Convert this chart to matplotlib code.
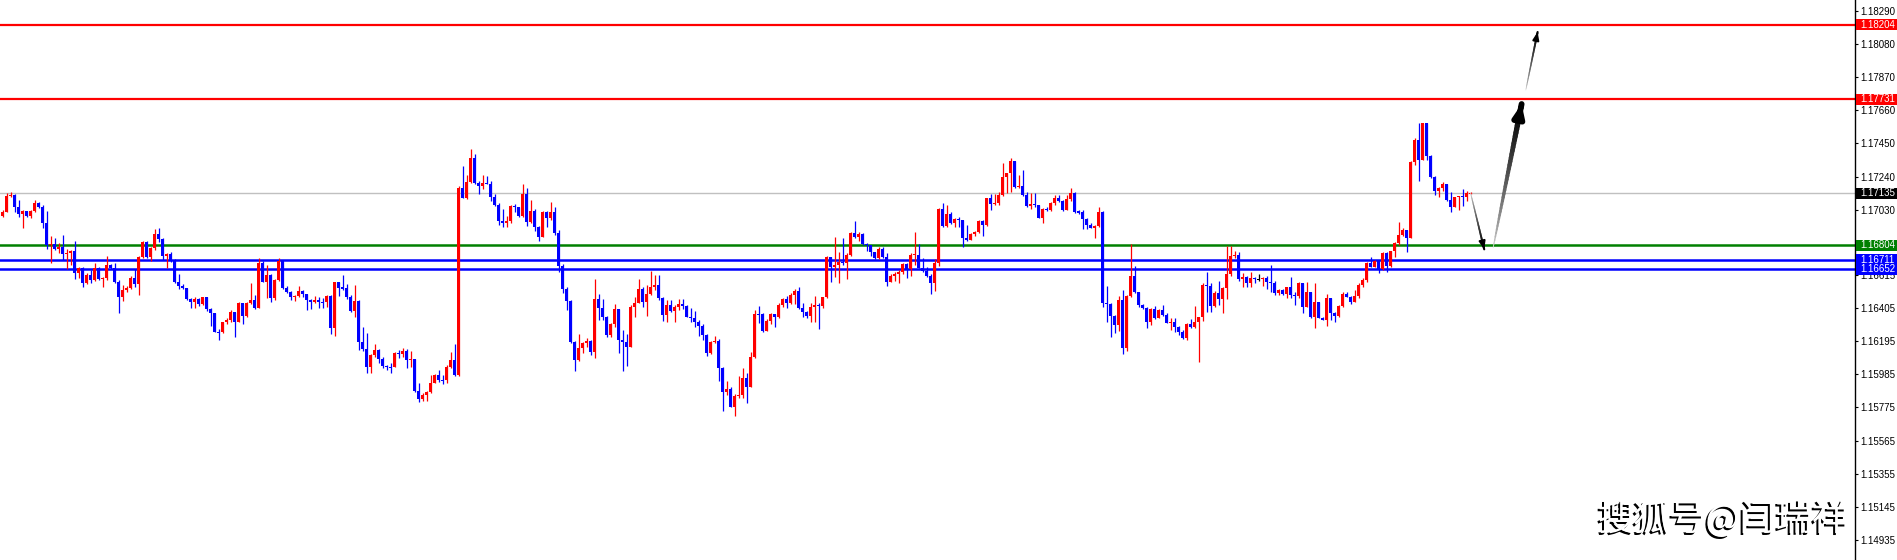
import matplotlib
matplotlib.use('Agg')
import matplotlib.pyplot as plt
from matplotlib.collections import LineCollection
from matplotlib.patches import Rectangle
import matplotlib.transforms as mtransforms
import numpy as np

# ---------------- data ----------------
first_open = 1.16989
closes = [
    1.17017, 1.17116, 1.17122, 1.17044, 1.17000, 1.17023, 1.16991, 1.17021, 1.17070, 1.17044,
    1.16947, 1.16805, 1.16812, 1.16782, 1.16795, 1.16746, 1.16757, 1.16767, 1.16625, 1.16657,
    1.16562, 1.16615, 1.16583, 1.16661, 1.16587, 1.16598, 1.16678, 1.16661, 1.16568, 1.16473,
    1.16520, 1.16530, 1.16598, 1.16556, 1.16731, 1.16822, 1.16731, 1.16788, 1.16875, 1.16841,
    1.16738, 1.16746, 1.16710, 1.16573, 1.16547, 1.16530, 1.16461, 1.16446, 1.16461, 1.16431,
    1.16475, 1.16397, 1.16372, 1.16255, 1.16251, 1.16315, 1.16329, 1.16378, 1.16319, 1.16435,
    1.16357, 1.16439, 1.16456, 1.16408, 1.16689, 1.16573, 1.16615, 1.16471, 1.16583, 1.16704,
    1.16530, 1.16509, 1.16477, 1.16484, 1.16513, 1.16492, 1.16456, 1.16446, 1.16456, 1.16444,
    1.16441, 1.16482, 1.16281, 1.16568, 1.16535, 1.16530, 1.16477, 1.16386, 1.16450, 1.16192,
    1.16143, 1.16029, 1.16107, 1.16139, 1.16080, 1.16037, 1.16033, 1.16029, 1.16118, 1.16111,
    1.16133, 1.16076, 1.16080, 1.15881, 1.15828, 1.15854, 1.15875, 1.15928, 1.15980, 1.15949,
    1.15947, 1.16033, 1.16076, 1.15980, 1.17165, 1.17106, 1.17207, 1.17359, 1.17197, 1.17182,
    1.17197, 1.17192, 1.17112, 1.17059, 1.16960, 1.16947, 1.16958, 1.17053, 1.17044, 1.16991,
    1.17129, 1.16953, 1.17023, 1.16917, 1.16858, 1.17015, 1.16979, 1.17015, 1.16879, 1.16674,
    1.16526, 1.16452, 1.16192, 1.16076, 1.16150, 1.16181, 1.16198, 1.16128, 1.16463, 1.16403,
    1.16350, 1.16234, 1.16304, 1.16399, 1.16202, 1.16192, 1.16160, 1.16414, 1.16439, 1.16526,
    1.16446, 1.16494, 1.16537, 1.16551, 1.16467, 1.16361, 1.16425, 1.16386, 1.16414, 1.16429,
    1.16418, 1.16350, 1.16344, 1.16319, 1.16293, 1.16234, 1.16122, 1.16188, 1.16198, 1.16023,
    1.15875, 1.15889, 1.15779, 1.15847, 1.15854, 1.15964, 1.15906, 1.16093, 1.16367, 1.16365,
    1.16262, 1.16325, 1.16367, 1.16350, 1.16425, 1.16463, 1.16439, 1.16488, 1.16513, 1.16403,
    1.16382, 1.16357, 1.16414, 1.16425, 1.16418, 1.16473, 1.16731, 1.16663, 1.16678, 1.16700,
    1.16693, 1.16742, 1.16884, 1.16854, 1.16875, 1.16810, 1.16805, 1.16763, 1.16721, 1.16778,
    1.16731, 1.16573, 1.16611, 1.16621, 1.16636, 1.16687, 1.16653, 1.16742, 1.16744, 1.16661,
    1.16642, 1.16611, 1.16566, 1.16693, 1.17034, 1.16926, 1.17000, 1.16947, 1.16970, 1.16964,
    1.16852, 1.16837, 1.16873, 1.16890, 1.16960, 1.16932, 1.17101, 1.17065, 1.17074, 1.17122,
    1.17239, 1.17260, 1.17338, 1.17171, 1.17180, 1.17122, 1.17053, 1.17063, 1.17059, 1.16979,
    1.17034, 1.17027, 1.17070, 1.17101, 1.17084, 1.17027, 1.17097, 1.17137, 1.17017, 1.17013,
    1.16968, 1.16932, 1.16915, 1.16926, 1.17013, 1.16435, 1.16431, 1.16357, 1.16298, 1.16456,
    1.16154, 1.16484, 1.16609, 1.16509, 1.16425, 1.16403, 1.16319, 1.16397, 1.16340, 1.16393,
    1.16361, 1.16312, 1.16317, 1.16287, 1.16255, 1.16217, 1.16304, 1.16287, 1.16319, 1.16346,
    1.16551, 1.16547, 1.16420, 1.16503, 1.16463, 1.16530, 1.16621, 1.16738, 1.16742, 1.16589,
    1.16604, 1.16562, 1.16594, 1.16587, 1.16587, 1.16598, 1.16573, 1.16566, 1.16498, 1.16520,
    1.16494, 1.16537, 1.16488, 1.16484, 1.16566, 1.16410, 1.16509, 1.16346, 1.16446, 1.16344,
    1.16329, 1.16467, 1.16376, 1.16357, 1.16420, 1.16494, 1.16477, 1.16441, 1.16482, 1.16551,
    1.16583, 1.16693, 1.16668, 1.16706, 1.16651, 1.16757, 1.16672, 1.16769, 1.16816, 1.16869,
    1.16900, 1.16852, 1.17334, 1.17472, 1.17345, 1.17577, 1.17370, 1.17235, 1.17150, 1.17169,
    1.17192, 1.17091, 1.17044, 1.17108, 1.17116, 1.17112, 1.17133, 1.17135,
]
highs = [
    1.17027, 1.17133, 1.17139, 1.17127, 1.17091, 1.17027, 1.17021, 1.17027, 1.17091, 1.17080,
    1.17059, 1.17021, 1.16862, 1.16848, 1.16816, 1.16869, 1.16778, 1.16774, 1.16833, 1.16668,
    1.16663, 1.16625, 1.16647, 1.16689, 1.16668, 1.16604, 1.16735, 1.16683, 1.16693, 1.16583,
    1.16551, 1.16545, 1.16609, 1.16651, 1.16735, 1.16831, 1.16831, 1.16795, 1.16907, 1.16911,
    1.16852, 1.16757, 1.16763, 1.16714, 1.16619, 1.16558, 1.16535, 1.16467, 1.16477, 1.16467,
    1.16477, 1.16477, 1.16403, 1.16376, 1.16270, 1.16319, 1.16340, 1.16393, 1.16382, 1.16446,
    1.16439, 1.16446, 1.16562, 1.16488, 1.16721, 1.16704, 1.16678, 1.16619, 1.16589, 1.16721,
    1.16704, 1.16545, 1.16513, 1.16488, 1.16545, 1.16520, 1.16492, 1.16463, 1.16482, 1.16473,
    1.16471, 1.16486, 1.16488, 1.16573, 1.16573, 1.16615, 1.16556, 1.16488, 1.16551, 1.16456,
    1.16287, 1.16249, 1.16114, 1.16175, 1.16143, 1.16093, 1.16044, 1.16054, 1.16128, 1.16139,
    1.16150, 1.16143, 1.16133, 1.16076, 1.15928, 1.15868, 1.15881, 1.15980, 1.15985, 1.16012,
    1.15980, 1.16044, 1.16128, 1.16177, 1.17180, 1.17307, 1.17249, 1.17414, 1.17383, 1.17211,
    1.17249, 1.17245, 1.17211, 1.17129, 1.17070, 1.17032, 1.16989, 1.17059, 1.17063, 1.17048,
    1.17192, 1.17165, 1.17091, 1.17032, 1.16926, 1.17021, 1.17023, 1.17080, 1.17044, 1.16900,
    1.16685, 1.16541, 1.16456, 1.16196, 1.16240, 1.16192, 1.16213, 1.16202, 1.16589, 1.16492,
    1.16463, 1.16355, 1.16312, 1.16431, 1.16399, 1.16266, 1.16240, 1.16425, 1.16473, 1.16589,
    1.16541, 1.16551, 1.16642, 1.16613, 1.16613, 1.16477, 1.16456, 1.16456, 1.16425, 1.16463,
    1.16463, 1.16425, 1.16403, 1.16389, 1.16329, 1.16304, 1.16240, 1.16196, 1.16228, 1.16211,
    1.16029, 1.15942, 1.15902, 1.15858, 1.15974, 1.16027, 1.15995, 1.16124, 1.16393, 1.16418,
    1.16372, 1.16334, 1.16376, 1.16361, 1.16435, 1.16471, 1.16484, 1.16498, 1.16526, 1.16541,
    1.16435, 1.16389, 1.16435, 1.16482, 1.16435, 1.16477, 1.16735, 1.16721, 1.16858, 1.16763,
    1.16852, 1.16752, 1.16890, 1.16960, 1.16890, 1.16879, 1.16816, 1.16795, 1.16763, 1.16795,
    1.16795, 1.16752, 1.16621, 1.16632, 1.16647, 1.16693, 1.16693, 1.16752, 1.16890, 1.16812,
    1.16721, 1.16668, 1.16621, 1.16714, 1.17038, 1.17070, 1.17059, 1.17017, 1.16974, 1.16981,
    1.16964, 1.16932, 1.16879, 1.16894, 1.16964, 1.16964, 1.17106, 1.17129, 1.17129, 1.17144,
    1.17323, 1.17264, 1.17355, 1.17338, 1.17249, 1.17281, 1.17144, 1.17133, 1.17133, 1.17059,
    1.17038, 1.17044, 1.17080, 1.17122, 1.17122, 1.17091, 1.17122, 1.17165, 1.17144, 1.17027,
    1.17027, 1.16974, 1.16943, 1.16930, 1.17044, 1.17021, 1.16545, 1.16439, 1.16361, 1.16482,
    1.16520, 1.16488, 1.16810, 1.16672, 1.16509, 1.16431, 1.16414, 1.16403, 1.16418, 1.16397,
    1.16425, 1.16372, 1.16340, 1.16340, 1.16291, 1.16266, 1.16308, 1.16334, 1.16418, 1.16350,
    1.16562, 1.16636, 1.16566, 1.16516, 1.16577, 1.16541, 1.16801, 1.16801, 1.16769, 1.16763,
    1.16630, 1.16609, 1.16632, 1.16604, 1.16619, 1.16604, 1.16609, 1.16678, 1.16577, 1.16524,
    1.16524, 1.16541, 1.16600, 1.16509, 1.16573, 1.16566, 1.16573, 1.16509, 1.16562, 1.16446,
    1.16350, 1.16492, 1.16467, 1.16382, 1.16425, 1.16505, 1.16509, 1.16482, 1.16520, 1.16562,
    1.16594, 1.16700, 1.16727, 1.16710, 1.16710, 1.16763, 1.16763, 1.16769, 1.16822, 1.16949,
    1.16911, 1.16900, 1.17338, 1.17482, 1.17577, 1.17581, 1.17577, 1.17376, 1.17243, 1.17175,
    1.17207, 1.17165, 1.17144, 1.17112, 1.17118, 1.17158, 1.17150, 1.17140,
]
lows = [
    1.16985, 1.17048, 1.17112, 1.17017, 1.16985, 1.16915, 1.16985, 1.16979, 1.17017, 1.17038,
    1.16915, 1.16780, 1.16693, 1.16774, 1.16757, 1.16710, 1.16653, 1.16678, 1.16587, 1.16594,
    1.16541, 1.16556, 1.16566, 1.16579, 1.16583, 1.16541, 1.16583, 1.16651, 1.16562, 1.16376,
    1.16452, 1.16509, 1.16524, 1.16541, 1.16488, 1.16721, 1.16721, 1.16706, 1.16774, 1.16826,
    1.16710, 1.16661, 1.16700, 1.16562, 1.16526, 1.16524, 1.16456, 1.16408, 1.16408, 1.16418,
    1.16425, 1.16389, 1.16293, 1.16251, 1.16202, 1.16247, 1.16304, 1.16319, 1.16219, 1.16319,
    1.16302, 1.16350, 1.16431, 1.16399, 1.16408, 1.16568, 1.16467, 1.16446, 1.16456, 1.16577,
    1.16526, 1.16503, 1.16456, 1.16452, 1.16473, 1.16477, 1.16393, 1.16397, 1.16435, 1.16403,
    1.16403, 1.16414, 1.16240, 1.16228, 1.16484, 1.16520, 1.16463, 1.16378, 1.16350, 1.16139,
    1.16135, 1.15995, 1.15995, 1.16097, 1.16054, 1.16023, 1.16012, 1.15995, 1.16029, 1.16086,
    1.16093, 1.16023, 1.16033, 1.15875, 1.15811, 1.15818, 1.15818, 1.15868, 1.15928, 1.15938,
    1.15921, 1.15928, 1.16023, 1.15976, 1.15976, 1.17101, 1.17097, 1.17197, 1.17192, 1.17129,
    1.17161, 1.17190, 1.17087, 1.17053, 1.16932, 1.16917, 1.16922, 1.16947, 1.17017, 1.16985,
    1.16985, 1.16926, 1.16947, 1.16896, 1.16833, 1.16854, 1.16922, 1.16964, 1.16869, 1.16636,
    1.16498, 1.16393, 1.16185, 1.16008, 1.16071, 1.16122, 1.16160, 1.16107, 1.16086, 1.16329,
    1.16329, 1.16224, 1.16219, 1.16287, 1.16118, 1.16008, 1.16037, 1.16156, 1.16350, 1.16435,
    1.16414, 1.16357, 1.16488, 1.16520, 1.16456, 1.16325, 1.16319, 1.16380, 1.16319, 1.16393,
    1.16397, 1.16346, 1.16319, 1.16287, 1.16228, 1.16202, 1.16101, 1.16114, 1.16181, 1.15944,
    1.15754, 1.15854, 1.15775, 1.15722, 1.15832, 1.15832, 1.15805, 1.15902, 1.16086, 1.16308,
    1.16255, 1.16272, 1.16304, 1.16287, 1.16340, 1.16414, 1.16403, 1.16431, 1.16431, 1.16397,
    1.16346, 1.16340, 1.16319, 1.16319, 1.16272, 1.16403, 1.16467, 1.16573, 1.16604, 1.16566,
    1.16678, 1.16592, 1.16735, 1.16848, 1.16831, 1.16803, 1.16767, 1.16735, 1.16716, 1.16716,
    1.16721, 1.16547, 1.16568, 1.16579, 1.16566, 1.16621, 1.16594, 1.16611, 1.16678, 1.16657,
    1.16636, 1.16604, 1.16492, 1.16516, 1.16674, 1.16917, 1.16922, 1.16939, 1.16917, 1.16922,
    1.16790, 1.16833, 1.16854, 1.16862, 1.16879, 1.16862, 1.16926, 1.17027, 1.17059, 1.17059,
    1.17118, 1.17133, 1.17144, 1.17165, 1.17165, 1.17116, 1.17048, 1.17032, 1.17044, 1.16974,
    1.16947, 1.17023, 1.17023, 1.17059, 1.17080, 1.17021, 1.17044, 1.17087, 1.17010, 1.17002,
    1.16905, 1.16905, 1.16911, 1.16852, 1.16917, 1.16414, 1.16319, 1.16224, 1.16245, 1.16262,
    1.16111, 1.16133, 1.16477, 1.16503, 1.16414, 1.16397, 1.16281, 1.16298, 1.16334, 1.16350,
    1.16355, 1.16308, 1.16266, 1.16255, 1.16234, 1.16207, 1.16202, 1.16276, 1.16276, 1.16065,
    1.16325, 1.16382, 1.16382, 1.16410, 1.16425, 1.16372, 1.16463, 1.16609, 1.16721, 1.16579,
    1.16541, 1.16541, 1.16541, 1.16562, 1.16577, 1.16547, 1.16526, 1.16505, 1.16488, 1.16488,
    1.16488, 1.16467, 1.16467, 1.16425, 1.16467, 1.16372, 1.16410, 1.16340, 1.16281, 1.16340,
    1.16329, 1.16291, 1.16329, 1.16319, 1.16350, 1.16414, 1.16473, 1.16431, 1.16467, 1.16467,
    1.16541, 1.16573, 1.16663, 1.16663, 1.16630, 1.16647, 1.16636, 1.16668, 1.16731, 1.16805,
    1.16862, 1.16763, 1.16848, 1.17313, 1.17211, 1.17345, 1.17345, 1.17228, 1.17122, 1.17112,
    1.17150, 1.17087, 1.17017, 1.17044, 1.17027, 1.17053, 1.17084, 1.17130,
]

tick_values = [1.18290, 1.18080, 1.17870, 1.17660, 1.17450, 1.17240, 1.17030, 1.16820,
               1.16615, 1.16405, 1.16195, 1.15985, 1.15775, 1.15565, 1.15355, 1.15145, 1.14935]
# the 1.16820 label is hidden behind the green price box in the reference
tick_labels = ["1.18290", "1.18080", "1.17870", "1.17660", "1.17450", "1.17240",
               "1.17030", "", "1.16615", "1.16405", "1.16195", "1.15985",
               "1.15775", "1.15565", "1.15355", "1.15145", "1.14935"]

resistance_levels = [1.18204, 1.17731]
current_price = 1.17135
pivot_level = 1.16804
support_levels = [1.16711, 1.16652]

watermark = "搜狐号@闫瑞祥"

# ---------------- figure ----------------
W, H = 1897, 560
fig = plt.figure(figsize=(W / 100, H / 100), dpi=100)
fig.patch.set_facecolor('white')
ax_right_px = 1855
ax = fig.add_axes([0, 0, ax_right_px / W, 1])
ax.set_facecolor('white')

YMIN, YMAX = 1.14807, 1.18360
ax.set_ylim(YMIN, YMAX)
ax.set_xlim(-0.675, 463.1)
px_per_price = H / (YMAX - YMIN)

n = len(closes)
x = np.arange(n)
c = np.array(closes)
o = np.array([first_open] + closes[:-1])
hi = np.maximum(np.array(highs), np.maximum(o, c))
lo = np.minimum(np.array(lows), np.minimum(o, c))

RED, BLUE = '#ff0000', '#0000ff'
cols = np.where(c > o, RED, np.where(c < o, BLUE, '#000000'))

ax.vlines(x, lo, hi, colors=cols, linewidth=0.9, zorder=3)
diff = np.abs(c - o)
minh = 1.1 / px_per_price
hgt = np.maximum(diff, minh)
bot = np.minimum(o, c) - (hgt - diff) / 2
ax.bar(x, hgt, bottom=bot, width=0.7, color=cols, linewidth=0, zorder=4)

# horizontal levels
ax.axhline(current_price, color='#c0c0c0', lw=1.0, zorder=2)
for lv in resistance_levels:
    ax.axhline(lv, color=RED, lw=1.6, zorder=2)
ax.axhline(pivot_level, color='#008000', lw=1.8, zorder=2)
for lv in support_levels:
    ax.axhline(lv, color=BLUE, lw=1.8, zorder=2)

# right axis
for s in ['top', 'left', 'bottom']:
    ax.spines[s].set_visible(False)
ax.spines['right'].set_color('black')
ax.spines['right'].set_linewidth(1.0)
ax.set_xticks([])
ax.yaxis.tick_right()
ax.set_yticks(tick_values)
ax.set_yticklabels(tick_labels, fontsize=7, family='Liberation Sans')
ax.tick_params(axis='y', direction='out', length=2.2, width=0.8, pad=1.8, colors='black')

# coloured price labels
trans = mtransforms.blended_transform_factory(ax.transAxes, ax.transData)
box_w = (W - ax_right_px) / ax_right_px
hh = 5.5 / px_per_price
boxes = [(lv, RED) for lv in resistance_levels] + [(current_price, '#000000'),
         (pivot_level, '#008000')] + [(lv, BLUE) for lv in support_levels]
for lv, col in boxes:
    ax.add_patch(Rectangle((1.0 + 0.6 / ax_right_px, lv - hh), box_w, 2 * hh, transform=trans,
                           facecolor=col, edgecolor='none', clip_on=False, zorder=10))
    ax.text(1.0 + 5.6 / ax_right_px, lv, f"{lv:.5f}", transform=trans, color='white',
            fontsize=7, family='Liberation Sans', va='center', ha='left',
            clip_on=False, zorder=11)


# gradient arrows
def grad_arrow(x0, y0, x1, y1, w0, w1, hl, hw, g0=0.85, nseg=40):
    xs = np.linspace(x0, x1, nseg + 1)
    ys = np.linspace(y0, y1, nseg + 1)
    segs = [[(xs[i], ys[i]), (xs[i + 1], ys[i + 1])] for i in range(nseg)]
    t = np.linspace(0, 1, nseg) ** 0.7
    g = g0 * (1 - t)
    colors = [(gi, gi, gi) for gi in g]
    lws = w0 + (w1 - w0) * t
    ax.add_collection(LineCollection(segs, colors=colors, linewidths=lws,
                                     capstyle='round', zorder=12))
    ax.annotate('', xy=(x1, y1), xytext=(x1 - 0.08 * (x1 - x0), y1 - 0.08 * (y1 - y0)),
                arrowprops=dict(arrowstyle=f'-|>,head_length={hl},head_width={hw}',
                                color='black', lw=w1, shrinkA=0, shrinkB=0),
                zorder=13)


last_i = n - 1
grad_arrow(last_i, current_price, last_i + 3.4, 1.16778, 0.6, 1.5, 0.45, 0.18)
grad_arrow(last_i + 5.65, 1.16790, last_i + 12.75, 1.17700, 0.6, 4.2, 0.7, 0.3)
grad_arrow(last_i + 13.8, 1.17789, last_i + 16.75, 1.18157, 0.5, 1.5, 0.45, 0.18)

# watermark: white text with a dark drop shadow down-left
wm_x, wm_y = 1848 / W, 1 - 519 / H
shadow = mtransforms.offset_copy(fig.transFigure, fig=fig, x=-2.0, y=-2.0, units='dots')
fig.text(wm_x, wm_y, watermark, ha='right', va='center', transform=shadow,
         fontsize=26, color='black', family=['Noto Sans CJK SC', 'DejaVu Sans'],
         fontweight='medium', zorder=20)
fig.text(wm_x, wm_y, watermark, ha='right', va='center',
         fontsize=26, color='white', family=['Noto Sans CJK SC', 'DejaVu Sans'],
         fontweight='normal', zorder=21)

fig.savefig('out.png', dpi=100, facecolor='white')
